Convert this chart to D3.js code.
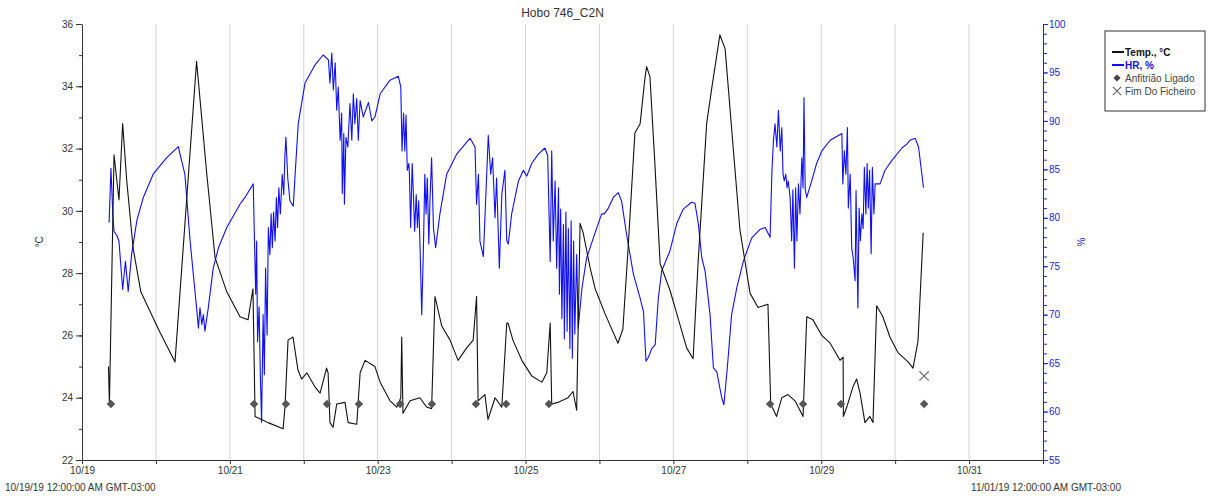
<!DOCTYPE html>
<html>
<head>
<meta charset="utf-8">
<script src="https://cdn.jsdelivr.net/npm/d3@7"></script>
<style>
  html, body { margin: 0; padding: 0; background: #fff; }
  svg { display: block; font-family: "Liberation Sans", Arial, sans-serif; }
  .grid line { stroke: #d4d4d4; stroke-width: 1; }
  .axis-temp path, .axis-temp line, .axis-x path, .axis-x line { stroke: #333; }
  .axis-temp text, .axis-x text { fill: #333; font-size: 10px; }
  .axis-hr path, .axis-hr line { stroke: #2222dd; }
  .axis-hr text { fill: #2222dd; font-size: 10px; }
</style>
</head>
<body>
<div id="chart"></div>
<script>
const width = 1214;
const height = 498;

// hours since 10/19/19 00:00, value
const tempReadings = [
  [8.6,25.0],[8.9,23.8],[10.4,31.8],[12.0,30.35],[13.2,32.8],[14.5,31.0],[16.6,28.8],[19.1,27.4],[21.0,27.0],[25.3,26.1],
  [30.2,25.15],[37.2,34.8],[40.5,31.2],[43.2,28.5],[47.0,27.4],[51.3,26.6],[53.9,26.5],[55.5,27.5],[56.2,23.4],[58.3,23.3],
  [60.4,23.2],[65.3,23.0],[65.9,23.7],[66.9,25.85],[68.5,25.95],[70.1,24.9],[71.3,24.6],[73.0,24.8],[75.6,24.35],[77.3,24.15],
  [79.4,24.95],[79.9,24.8],[80.5,23.2],[81.5,23.05],[82.7,23.8],[85.4,23.85],[86.4,23.2],[89.2,23.15],[90.3,24.8],[91.9,25.2],
  [95.1,25.0],[96.8,24.5],[100.0,23.9],[102.2,23.7],[103.5,24.0],[103.8,25.95],[104.2,23.5],[106.5,23.9],[109.7,24.0],[111.9,23.7],
  [113.5,23.65],[114.6,27.25],[116.8,26.3],[119.5,25.85],[122.1,25.2],[124.9,25.6],[127.0,25.85],[128.1,27.25],[128.6,23.9],[130.8,24.1],
  [131.8,23.3],[134.1,24.0],[136.3,23.7],[137.9,26.4],[138.3,26.4],[139.9,25.85],[142.8,25.2],[146.0,24.7],[149.3,24.5],[150.9,24.8],
  [152.0,26.4],[152.5,23.8],[154.5,23.85],[157.8,24.0],[159.4,24.2],[160.6,23.6],[161.7,29.6],[162.7,29.3],[164.9,28.2],[166.6,27.5],
  [169.8,26.7],[174.0,25.75],[175.6,26.2],[177.3,28.8],[179.5,32.5],[181.2,32.8],[182.7,34.2],[183.3,34.63],[184.4,34.3],[186.0,31.5],
  [187.7,28.3],[190.9,27.45],[193.1,26.7],[196.3,25.6],[198.4,25.25],[200.0,28.3],[202.8,32.8],[204.4,33.9],[207.1,35.65],[208.8,35.2],
  [211.4,32.05],[213.6,29.4],[216.9,27.35],[219.5,26.9],[222.7,27.0],[223.6,23.8],[225.5,23.4],[227.2,24.0],[229.2,24.1],[231.5,23.9],
  [234.1,23.4],[235.3,26.6],[237.3,26.5],[240.2,26.0],[242.9,25.75],[246.1,25.2],[247.1,25.3],[247.2,23.4],[248.3,23.7],[250.3,24.35],
  [251.5,24.6],[252.6,24.15],[254.2,23.2],[255.8,23.4],[256.8,23.2],[258.0,26.95],[260.0,26.6],[262.3,25.95],[264.9,25.45],[268.2,25.15],
  [269.8,24.95],[271.4,25.8],[273.1,29.3]
];

const hrReadings = [
  [8.8,79.5],[9.4,85.1],[10.0,80.4],[10.4,78.6],[11.3,78.2],[12.0,77.6],[13.2,72.6],[14.1,75.5],[15.0,72.4],[16.1,76.2],
  [17.8,79.7],[19.9,82.1],[23.1,84.5],[27.5,86.2],[31.3,87.35],[31.8,86.6],[33.4,84.5],[35.1,77.6],[37.2,70.7],[37.8,68.6],
  [38.3,70.7],[38.9,69.0],[39.4,70.0],[39.9,68.3],[41.0,70.7],[42.6,74.8],[44.3,76.9],[47.0,79.0],[51.3,81.4],[52.9,82.1],
  [55.6,83.5],[55.9,79.0],[56.4,72.1],[56.7,77.6],[57.0,67.2],[57.5,70.8],[57.9,63.8],[58.3,58.9],[58.8,70.0],[59.2,63.8],
  [59.6,74.8],[60.1,67.9],[60.5,79.0],[61.0,76.2],[61.4,80.4],[61.8,76.9],[62.2,80.6],[62.7,77.6],[63.1,82.1],[63.5,79.0],
  [63.9,83.1],[64.4,80.4],[65.0,84.5],[65.5,82.4],[65.9,86.6],[66.2,88.3],[66.8,84.1],[67.5,81.75],[68.6,81.2],[69.2,84.5],
  [70.2,89.7],[72.4,93.9],[75.6,95.75],[78.3,96.8],[80.0,96.3],[80.5,93.9],[81.1,97.0],[81.6,93.2],[82.2,96.0],[82.7,91.1],
  [83.2,93.5],[83.8,88.0],[84.3,90.8],[84.5,82.5],[85.0,88.7],[85.2,81.4],[85.7,88.3],[86.3,87.3],[87.0,91.8],[87.6,88.0],
  [88.1,92.8],[88.6,89.7],[89.2,92.3],[89.7,88.0],[90.3,92.1],[91.3,90.4],[93.0,91.9],[94.1,90.0],[95.1,90.4],[96.8,92.8],
  [100.0,94.2],[102.7,94.6],[103.5,93.5],[103.9,86.9],[104.4,90.8],[104.8,86.9],[105.2,90.6],[105.6,84.9],[106.1,85.6],[106.3,84.5],
  [106.7,79.0],[107.2,85.6],[107.6,82.4],[108.0,78.6],[108.5,82.4],[108.9,79.0],[109.3,81.75],[109.7,77.6],[110.3,70.0],[110.8,76.2],
  [111.3,84.5],[111.7,80.4],[112.1,84.1],[112.6,77.3],[113.0,82.1],[113.5,86.2],[114.1,79.0],[114.8,76.9],[116.2,80.4],[118.4,84.5],
  [121.7,86.6],[124.9,87.8],[126.0,88.2],[127.6,87.3],[128.1,81.4],[128.7,84.5],[129.2,77.6],[130.3,76.0],[131.4,84.5],[131.9,88.5],
  [132.7,84.5],[133.3,86.2],[134.1,80.0],[134.6,84.1],[135.5,74.8],[136.3,82.4],[137.3,84.9],[137.9,77.6],[138.4,77.3],[139.5,80.4],
  [141.7,83.8],[143.3,84.9],[144.4,84.3],[146.0,85.6],[148.2,86.6],[150.3,87.2],[151.2,86.4],[152.0,75.5],[152.5,86.9],[153.0,77.6],
  [153.6,83.8],[154.1,74.8],[154.7,83.1],[155.0,72.1],[155.4,80.9],[155.8,69.6],[156.3,79.3],[156.6,67.5],[157.1,80.6],[157.5,68.3],
  [157.9,78.9],[158.4,66.5],[158.8,79.7],[159.2,65.5],[159.6,77.6],[160.0,68.0],[160.6,76.2],[161.1,68.6],[162.3,72.7],[163.8,75.8],
  [166.0,77.9],[168.7,80.4],[169.6,80.4],[170.9,81.0],[172.5,82.1],[174.1,82.6],[175.2,81.7],[176.8,78.3],[179.0,74.2],[181.2,71.7],
  [182.3,70.3],[183.1,65.2],[183.9,65.6],[185.0,66.5],[186.1,66.9],[187.1,71.7],[188.2,74.5],[190.9,76.6],[193.1,79.4],[195.2,80.9],
  [197.9,81.6],[199.0,81.5],[200.1,79.4],[201.2,75.9],[202.3,74.5],[203.9,70.0],[205.0,64.5],[206.1,64.1],[207.7,61.4],[208.4,60.7],
  [209.5,64.5],[210.9,70.0],[212.6,72.8],[214.7,75.5],[217.4,77.9],[220.1,78.8],[221.8,79.0],[223.4,78.0],[224.0,84.9],[224.5,88.0],
  [225.0,89.7],[225.6,87.3],[226.1,91.1],[226.7,86.9],[227.2,89.3],[227.6,84.5],[228.0,83.8],[228.5,84.5],[228.9,83.1],[229.3,83.8],
  [229.9,82.1],[230.4,77.6],[230.8,82.9],[231.3,74.8],[231.7,83.1],[232.1,77.6],[232.6,83.5],[233.1,80.4],[233.7,86.2],[234.1,83.1],
  [234.4,92.4],[234.8,82.9],[235.3,82.1],[236.9,83.8],[238.5,85.6],[240.2,86.9],[242.9,88.0],[246.7,88.7],[247.0,83.5],[247.5,86.9],
  [248.0,84.5],[248.5,89.3],[248.8,81.0],[249.4,84.5],[249.9,76.9],[250.4,75.8],[251.0,73.5],[251.3,82.8],[251.9,70.7],[252.3,81.0],
  [252.7,77.6],[253.2,80.4],[253.6,78.9],[254.0,85.2],[254.5,80.4],[254.9,85.6],[255.3,81.0],[255.7,84.9],[256.2,76.3],[256.6,85.2],
  [257.1,80.4],[257.5,83.5],[259.1,83.5],[260.7,84.9],[262.9,85.9],[266.2,87.2],[267.8,87.6],[268.8,88.0],[270.5,88.2],[271.6,87.3],
  [273.2,83.1]
];

// "Anfitrião Ligado" markers (plotted on the temperature axis)
const hostReadings = [
  [9.4,23.8],[55.85,23.8],[66.2,23.8],[79.55,23.8],[89.9,23.8],[103.3,23.8],[113.6,23.8],
  [127.9,23.8],[137.7,23.8],[151.6,23.8],[223.4,23.8],[234.1,23.8],[246.4,23.8],[273.4,23.8]
];
// "Fim Do Ficheiro"
const endReadings = [[273.4,24.7]];

const tempTicks = [22, 24, 26, 28, 30, 32, 34, 36];
const hrTicks = [55, 60, 65, 70, 75, 80, 85, 90, 95, 100];
const legendItems = ["Temp., °C", "HR, %", "Anfitrião Ligado", "Fim Do Ficheiro"];

const START = Date.UTC(2019, 9, 19);
const toDate = h => new Date(START + h * 3600e3);

const margin = { left: 82, right: 1043, top: 24, bottom: 460 };
const hrColor = "#2222dd";

const x = d3.scaleUtc().domain([toDate(0), toDate(13 * 24)]).range([margin.left, margin.right]);
const yT = d3.scaleLinear().domain([22, 36]).range([margin.bottom, margin.top]);
const yH = d3.scaleLinear().domain([55, 100]).range([margin.bottom, margin.top]);

const svg = d3.select("#chart").append("svg")
  .attr("width", width)
  .attr("height", height);

// vertical day grid
const days = d3.utcDay.range(toDate(24), toDate(13 * 24));
svg.append("g").attr("class", "grid")
  .selectAll("line").data(days).join("line")
  .attr("x1", d => x(d)).attr("x2", d => x(d))
  .attr("y1", margin.top).attr("y2", margin.bottom);

// title
svg.append("text")
  .attr("x", (margin.left + margin.right) / 2)
  .attr("y", 17)
  .attr("text-anchor", "middle")
  .attr("fill", "#333")
  .style("font-size", "12px")
  .text("Hobo 746_C2N");

// left axis
svg.append("g").attr("class", "axis-temp")
  .attr("transform", `translate(${margin.left},0)`)
  .call(d3.axisLeft(yT).tickValues(d3.range(22, 37)).tickSize(3).tickFormat(""))
  .call(g => g.select(".domain").remove());
svg.append("g").attr("class", "axis-temp")
  .attr("transform", `translate(${margin.left},0)`)
  .call(d3.axisLeft(yT).tickValues(tempTicks).tickSize(6).tickSizeOuter(0).tickPadding(3));

// right axis
svg.append("g").attr("class", "axis-hr")
  .attr("transform", `translate(${margin.right},0)`)
  .call(d3.axisRight(yH).tickValues(d3.range(55, 101)).tickSize(4).tickFormat(""))
  .call(g => g.select(".domain").remove());
svg.append("g").attr("class", "axis-hr")
  .attr("transform", `translate(${margin.right},0)`)
  .call(d3.axisRight(yH).tickValues(hrTicks).tickSize(5).tickSizeOuter(0).tickPadding(1));

// bottom axis
const dayFmt = d3.utcFormat("%m/%d");
svg.append("g").attr("class", "axis-x")
  .attr("transform", `translate(0,${margin.bottom})`)
  .call(d3.axisBottom(x)
    .ticks(d3.utcDay.every(1))
    .tickSize(4)
    .tickSizeOuter(0)
    .tickPadding(3)
    .tickFormat(d => (Math.round((d - START) / 864e5) % 2 === 0 ? dayFmt(d) : "")));

svg.append("text").attr("x", 5).attr("y", 491)
  .attr("fill", "#333").style("font-size", "10px")
  .text("10/19/19 12:00:00 AM GMT-03:00");
svg.append("text").attr("x", 1121).attr("y", 491)
  .attr("text-anchor", "end")
  .attr("fill", "#333").style("font-size", "10px")
  .text("11/01/19 12:00:00 AM GMT-03:00");

// axis titles
svg.append("text")
  .attr("transform", "translate(43,242) rotate(-90)")
  .attr("text-anchor", "middle")
  .attr("fill", "#333").style("font-size", "10px")
  .text("°C");
svg.append("text")
  .attr("transform", "translate(1085,242) rotate(-90)")
  .attr("text-anchor", "middle")
  .attr("fill", hrColor).style("font-size", "10px")
  .text("%");

// series
const tempLine = d3.line().x(d => x(toDate(d[0]))).y(d => yT(d[1]));
const hrLine = d3.line().x(d => x(toDate(d[0]))).y(d => yH(d[1]));

svg.append("path").datum(hrReadings)
  .attr("fill", "none")
  .attr("stroke", "#1010f0")
  .attr("stroke-width", 1.1)
  .attr("stroke-linejoin", "round")
  .attr("d", hrLine);

svg.append("path").datum(tempReadings)
  .attr("fill", "none")
  .attr("stroke", "#111")
  .attr("stroke-width", 1.1)
  .attr("stroke-linejoin", "round")
  .attr("d", tempLine);

// square rotated 45deg gives the even diamond used by HOBOware
const diamond = d3.symbol().type(d3.symbolSquare).size(36);
svg.append("g").selectAll("path").data(hostReadings).join("path")
  .attr("transform", d => `translate(${x(toDate(d[0]))},${yT(d[1])}) rotate(45)`)
  .attr("d", diamond)
  .attr("fill", "#555");

const cross = d3.symbol().type(d3.symbolX).size(60);
svg.append("g").selectAll("path").data(endReadings).join("path")
  .attr("transform", d => `translate(${x(toDate(d[0]))},${yT(d[1])})`)
  .attr("d", cross)
  .attr("fill", "none")
  .attr("stroke", "#777")
  .attr("stroke-width", 1.3);

// legend
const legend = svg.append("g").attr("transform", "translate(1105,31)");
legend.append("rect")
  .attr("width", 100).attr("height", 80)
  .attr("fill", "#fff").attr("stroke", "#333").attr("stroke-width", 1);

const rowY = [21, 34, 47, 60];
const legendColors = ["#111", "#1010f0", "#444", "#444"];

legendItems.forEach((label, i) => {
  const row = legend.append("g").attr("transform", `translate(0,${rowY[i]})`);
  if (i < 2) {
    row.append("line").attr("x1", 7).attr("x2", 19)
      .attr("stroke", legendColors[i]).attr("stroke-width", 2);
  } else if (i === 2) {
    row.append("path").attr("transform", "translate(12,0) rotate(45)")
      .attr("d", d3.symbol().type(d3.symbolSquare).size(26)).attr("fill", "#444");
  } else {
    row.append("path").attr("transform", "translate(12,0)")
      .attr("d", d3.symbol().type(d3.symbolX).size(45))
      .attr("fill", "none").attr("stroke", "#666").attr("stroke-width", 1.2);
  }
  row.append("text")
    .attr("x", 20).attr("dy", "0.35em")
    .attr("fill", legendColors[i])
    .style("font-size", "10px")
    .style("font-weight", i < 2 ? "bold" : "normal")
    .text(label);
});
</script>
</body>
</html>
